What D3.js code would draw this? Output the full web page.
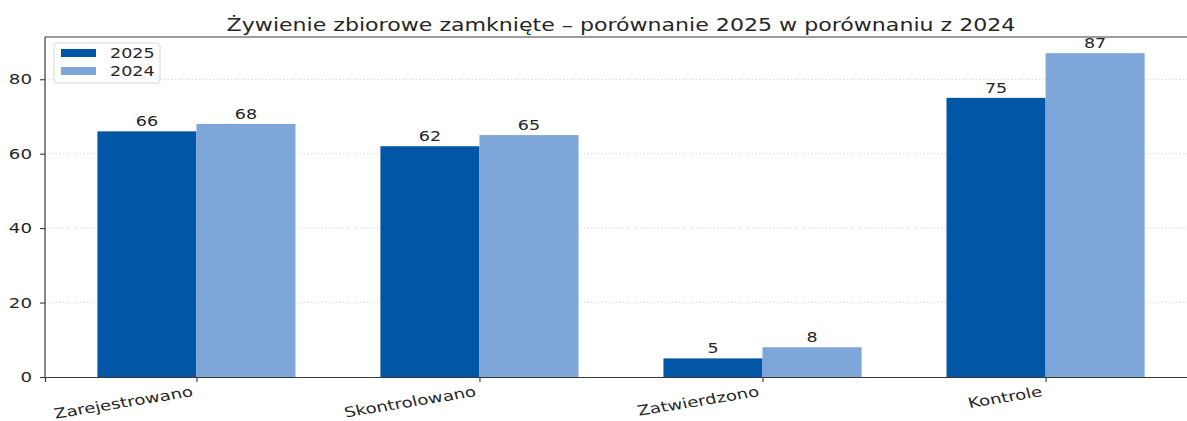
<!DOCTYPE html>
<html>
<head>
<meta charset="utf-8">
<script src="https://cdn.jsdelivr.net/npm/d3@7"></script>
<style>
  body { margin: 0; background: #fff; }
  text { font-family: "DejaVu Sans", sans-serif; fill: #262626; }
</style>
</head>
<body>
<div class="chart"></div>
<script>
var categories = ["Zarejestrowano", "Skontrolowano", "Zatwierdzono", "Kontrole"];
var values2025 = [66, 62, 5, 75];
var values2024 = [68, 65, 8, 87];
var seriesNames = ["2025", "2024"];
var yTicks = [0, 20, 40, 60, 80];

var svgWidth = 1187;
var svgHeight = 421;

var colors = ["#0256a6", "#7ea6d9"];
var barWidth = 0.35;
// the reference image is stretched sideways, text included
var sx = 1.3;

var svg = d3.select(".chart")
  .append("svg")
  .attr("width", svgWidth)
  .attr("height", svgHeight);

// place a text at (x, y) with the horizontal stretch
function putText(sel, x, y) {
  sel.attr("x", 0).attr("y", 0)
    .attr("transform", (d, i) => `translate(${x(d, i)},${y(d, i)}) scale(${sx},1)`);
}

// x runs over category index, matplotlib-like padding
var xScale = d3.scaleLinear()
  .domain([-0.535, categories.length - 1 + 0.535])
  .range([45, 1197]);

var yScale = d3.scaleLinear()
  .domain([0, 91.35])
  .range([377, 37]);

// grid
svg.append("g")
  .selectAll("line")
  .data(yTicks.slice(1))
  .enter()
  .append("line")
  .attr("x1", xScale.range()[0])
  .attr("x2", xScale.range()[1])
  .attr("y1", d => yScale(d))
  .attr("y2", d => yScale(d))
  .attr("stroke", "#cfcfcf")
  .attr("stroke-width", 0.8)
  .attr("stroke-dasharray", "1.5,2");

// bars
var series = [values2025, values2024];
series.forEach(function(vals, s) {
  var offset = s === 0 ? -barWidth : 0;
  var g = svg.append("g");
  g.selectAll("rect")
    .data(vals)
    .enter()
    .append("rect")
    .attr("x", (d, i) => xScale(i + offset))
    .attr("width", (d, i) => xScale(i + offset + barWidth) - xScale(i + offset))
    .attr("y", d => yScale(d))
    .attr("height", d => yScale(0) - yScale(d))
    .attr("fill", colors[s]);

  g.selectAll("text")
    .data(vals)
    .enter()
    .append("text")
    .attr("text-anchor", "middle")
    .style("font-size", "13.5px")
    .text(d => d)
    .call(putText, (d, i) => xScale(i + offset + barWidth / 2), d => yScale(d) - 5);
});

// axes
var leftAxis = d3.axisLeft(yScale)
  .tickValues(yTicks)
  .tickSize(5)
  .tickPadding(5);

var bottomAxis = d3.axisBottom(xScale)
  .tickValues(d3.range(categories.length))
  .tickFormat(i => categories[i])
  .tickSize(5)
  .tickPadding(4);

var yAxisG = svg.append("g")
  .attr("transform", `translate(${xScale.range()[0]}, 0)`)
  .call(leftAxis);

var xAxisG = svg.append("g")
  .attr("transform", `translate(0, ${yScale(0)})`)
  .call(bottomAxis);

[yAxisG, xAxisG].forEach(function(g) {
  g.select(".domain").attr("stroke", "#3a3a3a").attr("stroke-width", 1.2);
  g.selectAll(".tick line").attr("stroke", "#3a3a3a").attr("stroke-width", 1.1);
  g.selectAll(".tick text")
    .style("font-size", "14px")
    .style("font-family", "DejaVu Sans")
    .attr("fill", "#262626");
});
yAxisG.select(".domain").attr("d", `M0,${yScale(0)}V${yScale.range()[1]}`);
yAxisG.selectAll(".tick text").attr("transform", `scale(${sx},1)`);

xAxisG.selectAll(".tick text")
  .attr("text-anchor", "end")
  .attr("dy", "0")
  .attr("x", 0)
  .attr("y", 0)
  .attr("transform", `translate(-3,19) scale(${sx},1) rotate(-12)`);

// top spine
svg.append("line")
  .attr("x1", xScale.range()[0])
  .attr("x2", xScale.range()[1])
  .attr("y1", yScale.range()[1])
  .attr("y2", yScale.range()[1])
  .attr("stroke", "#3a3a3a")
  .attr("stroke-width", 1.2);

// title
svg.append("text")
  .datum(0)
  .attr("text-anchor", "middle")
  .style("font-size", "17px")
  .text("Żywienie zbiorowe zamknięte – porównanie 2025 w porównaniu z 2024")
  .call(putText, () => 621, () => 31);

// legend
var legend = svg.append("g").attr("transform", "translate(54, 43)");
legend.append("rect")
  .attr("width", 106)
  .attr("height", 40)
  .attr("rx", 3)
  .attr("fill", "#fff")
  .attr("fill-opacity", 0.8)
  .attr("stroke", "#d6d6d6");
seriesNames.forEach(function(name, i) {
  legend.append("rect")
    .attr("x", 7)
    .attr("y", 6 + i * 18)
    .attr("width", 35)
    .attr("height", 8)
    .attr("fill", colors[i]);
  legend.append("text")
    .datum(name)
    .style("font-size", "13.5px")
    .text(name)
    .call(putText, () => 56, () => 15 + i * 18);
});
</script>
</body>
</html>
